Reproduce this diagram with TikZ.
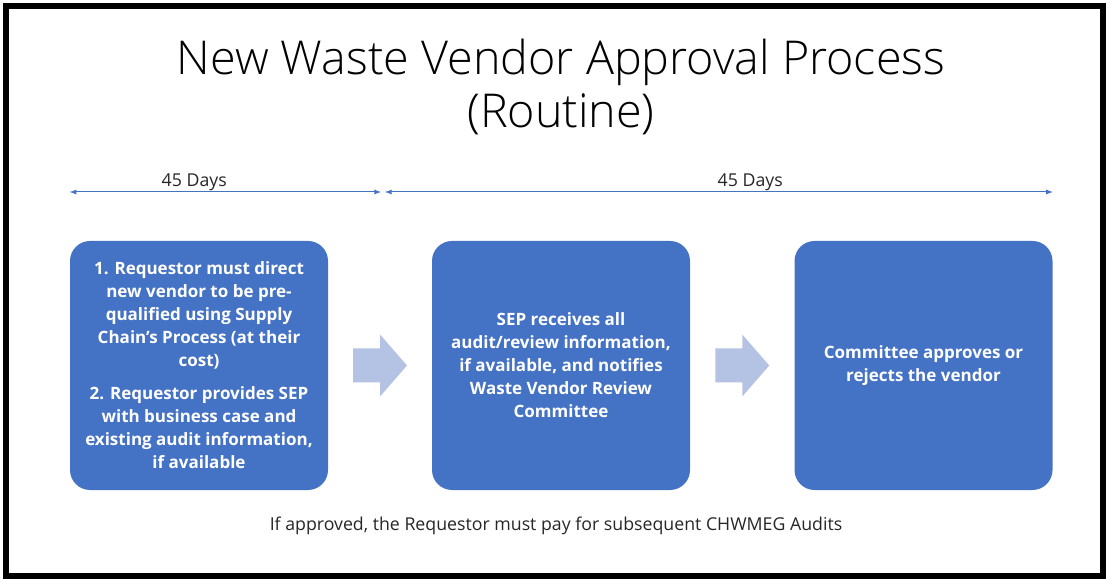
\documentclass[tikz,border=0pt]{standalone}
\usepackage{fontspec}
\setmainfont{Open Sans}
\newfontfamily\lightfont{Open Sans Light}
\usetikzlibrary{arrows,calc}
\definecolor{stepblue}{HTML}{4472C4}
\definecolor{paleblue}{HTML}{B4C2E3}
\definecolor{inkgray}{HTML}{262626}

\begin{document}
\begin{tikzpicture}[x=0.75pt,y=-0.75pt,>=latex,
                    stage/.style={fill=stepblue,rounded corners=15pt,
                      minimum width=193.5pt,minimum height=186.75pt,
                      text=white,align=center,
                      font=\bfseries\fontsize{12.75}{17.25}\selectfont},
                    blockarrow/.style={fill=paleblue},
                    span/.style={<->,stepblue,line width=0.75pt},
                    days/.style={text=inkgray,anchor=base,yshift=4pt,
                      font=\fontsize{13.3}{15}\selectfont}]

  \useasboundingbox (0,0) rectangle (1106,580);
  \draw[line width=4.5pt] (6,6) rectangle (1103,576);

  \node[anchor=base,font=\lightfont\fontsize{35}{40}\selectfont] (title)
    at (561,75) {New Waste Vendor Approval Process};
  \node[anchor=base,font=\lightfont\fontsize{35}{40}\selectfont] (subtitle)
    at (561,128) {(Routine)};

  \node[stage] (req) at (199,365.5)
    {1. Requestor must direct\\ new vendor to be pre-\\ qualified using Supply\\
     Chain’s Process (at their\\ cost)\\[7.5pt]
     2. Requestor provides SEP\\ with business case and\\
     existing audit information,\\ if available};
  \node[stage] (sep) at (561,365.5)
    {SEP receives all\\ audit/review information,\\ if available, and notifies\\
     Waste Vendor Review\\ Committee};
  \node[stage] (cmt) at (923.5,365.5)
    {Committee approves or\\ rejects the vendor};

  % block arrows between the stages
  \foreach \a/\b in {req/sep,sep/cmt}
    \fill[blockarrow] ($(\a.east)!0.5!(\b.west)$) ++(-27,-17) -- ++(27,0)
      -- ++(0,-14) -- ++(27,31) -- ++(-27,31) -- ++(0,-14) -- ++(-27,0) -- cycle;

  % time spans
  \coordinate (t0) at (req.west |- 0,192);
  \coordinate (t1) at (381,192);
  \coordinate (t2) at (385,192);
  \coordinate (t3) at (cmt.east |- 0,192);
  \draw[span] (t0) -- node[days,pos=0.4] {45 Days} (t1);
  \draw[span] (t2) -- node[days,pos=0.547] {45 Days} (t3);

  \node[text=inkgray,font=\fontsize{13.3}{15}\selectfont] (note) at (556,526)
    {If approved, the Requestor must pay for subsequent CHWMEG Audits};
\end{tikzpicture}
\end{document}
